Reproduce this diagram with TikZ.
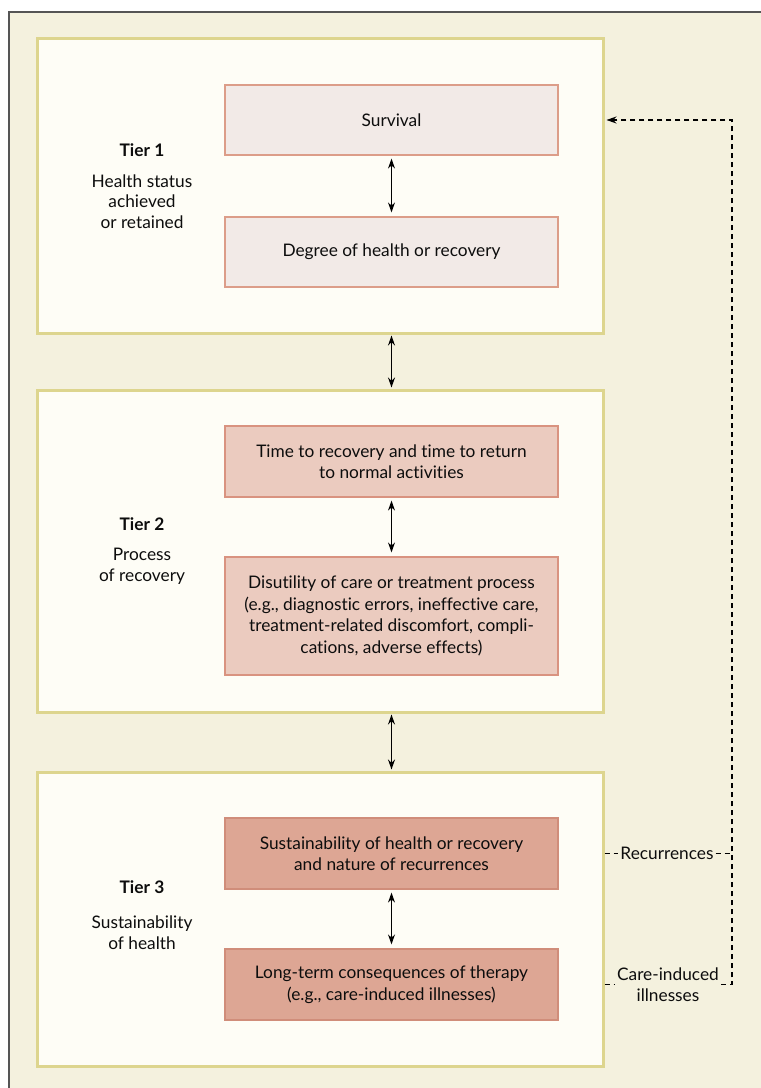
\documentclass[tikz,border=0pt]{standalone}
\usepackage{fontspec}
\setmainfont{Lato}[Ligatures=NoCommon]
\usetikzlibrary{arrows.meta,calc}
\definecolor{creambg}{HTML}{F4F1DE}
\definecolor{tierfill}{HTML}{FEFDF6}
\definecolor{tierline}{HTML}{DDD58E}
\definecolor{oneFill}{HTML}{F2EAE7}
\definecolor{oneLine}{HTML}{DC9D89}
\definecolor{twoFill}{HTML}{EBCBBF}
\definecolor{twoLine}{HTML}{D99380}
\definecolor{threeFill}{HTML}{DDA694}
\definecolor{threeLine}{HTML}{D08D7A}
\definecolor{frameline}{HTML}{555555}
\tikzset{
  tierbox/.style={draw=tierline, fill=tierfill, line width=3pt, minimum width=566pt, inner sep=0pt},
  innerbox/.style={line width=1.2pt, minimum width=333pt, inner sep=0pt, align=center, font=\fontsize{17.3}{21.5}\selectfont, text=black!95},
  onebox/.style={innerbox, draw=oneLine, fill=oneFill},
  twobox/.style={innerbox, draw=twoLine, fill=twoFill},
  threebox/.style={innerbox, draw=threeLine, fill=threeFill},
  tierlabel/.style={align=center, font=\fontsize{17.3}{20.5}\selectfont, text=black!95},
  biarrow/.style={{Stealth[length=10pt,width=7pt]}-{Stealth[length=10pt,width=7pt]}, line width=1.3pt},
  dashline/.style={dash pattern=on 5pt off 4pt, line width=1.2pt},
  sidelabel/.style={align=center, font=\fontsize{17.3}{21}\selectfont, text=black!95, inner sep=2pt}
}
\begin{document}
\begin{tikzpicture}[x=1pt,y=-1pt]
\useasboundingbox (0,0) rectangle (761,1088);
\fill[white] (0,0) rectangle (761,1088);
\fill[creambg] (9,12) rectangle (761,1088);
\draw[frameline, line width=1.5pt] (9,1088) -- (9,12) -- (761,12);

% tier frames
\node[tierbox, minimum height=295pt] (t1) at (320,185.5) {};
\node[tierbox, minimum height=322pt] (t2) at (320,551) {};
\node[tierbox, minimum height=294pt] (t3) at (320,919) {};

% tier labels
\node[tierlabel] (l1) at (142,186) {\textbf{Tier 1}\\[10pt]Health status\\achieved\\or retained};
\node[tierlabel] (l2) at (142,551) {\textbf{Tier 2}\\[10pt]Process\\of recovery};
\node[tierlabel] (l3) at (142,915) {\textbf{Tier 3}\\[15pt]Sustainability\\of health};

% inner boxes
\node[onebox, minimum height=70pt] (surv) at (391.5,120) {Survival};
\node[onebox, minimum height=70pt] (deg) at (391.5,252) {Degree of health or recovery};
\node[twobox, minimum height=71pt] (time) at (391.5,461.5) {Time to recovery and time to return\\to normal activities};
\node[twobox, minimum height=118pt] (dis) at (391.5,616) {Disutility of care or treatment process\\(e.g., diagnostic errors, ineffective care,\\treatment-related discomfort, compli-\\cations, adverse effects)};
\node[threebox, minimum height=71pt] (sus) at (391.5,853.5) {Sustainability of health or recovery\\and nature of recurrences};
\node[threebox, minimum height=71pt] (lt) at (391.5,984.5) {Long-term consequences of therapy\\(e.g., care-induced illnesses)};

% arrows within tiers
\draw[biarrow] ([yshift=-3pt]surv.south) -- ([yshift=4pt]deg.north);
\draw[biarrow] ([yshift=-3pt]time.south) -- ([yshift=4pt]dis.north);
\draw[biarrow] ([yshift=-3pt]sus.south) -- ([yshift=4pt]lt.north);
% arrows between tiers
\draw[biarrow] ([yshift=-1pt]deg.south |- t1.south) -- ([yshift=1pt]time.north |- t2.north);
\draw[biarrow] ([yshift=-1pt]dis.south |- t2.south) -- ([yshift=1pt]sus.north |- t3.north);

% feedback labels
\node[sidelabel] (rec) at (667,853.5) {Recurrences};
\node[sidelabel] (care) at (668,984.5) {Care-induced\\illnesses};
\coordinate (cr) at (732,984.5);
\coordinate (tr) at (732,120);
\coordinate (rr) at (732,853.5);

\draw[dashline] (t3.east |- rec.west) -- (rec.west);
\draw[dashline] (rec.east) -- (rr);
\draw[dashline] (t3.east |- care.west) -- (care.west);
\draw[dashline, -{Stealth[length=10pt,width=7pt]}] (care.east) -- (cr) -- (tr) -- ([xshift=2pt]t1.east |- surv.east);
\end{tikzpicture}
\end{document}
